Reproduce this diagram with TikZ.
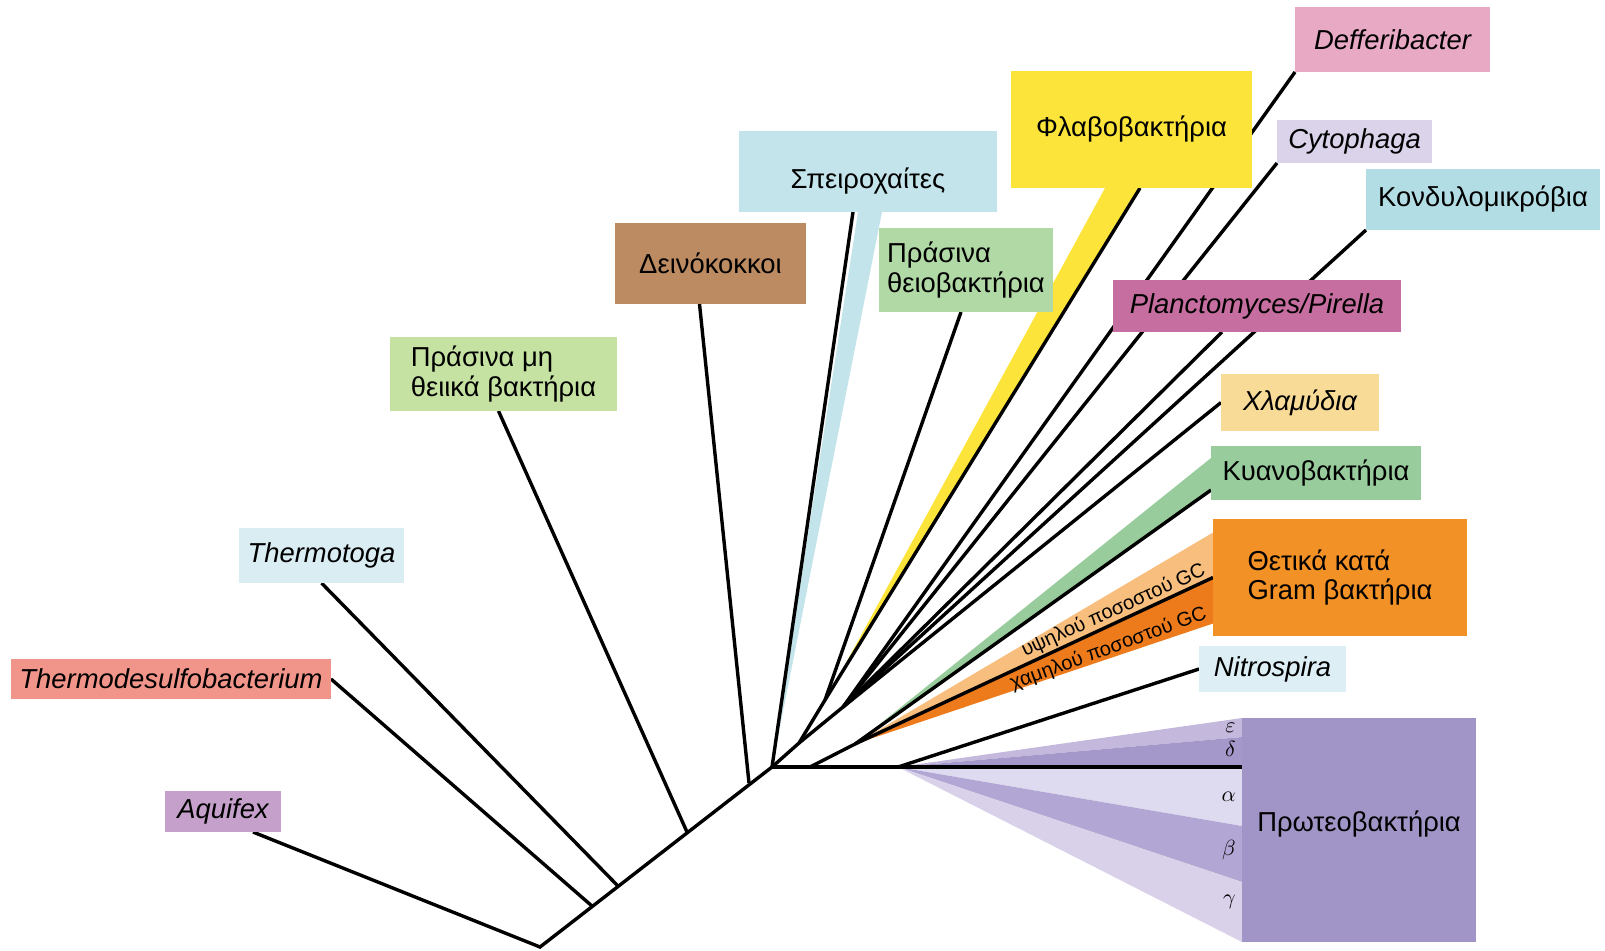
\documentclass[tikz,border=0pt]{standalone}
\usepackage{fontspec}
\setmainfont{Liberation Sans}
\usetikzlibrary{calc}

\pgfdeclarelayer{bg}
\pgfsetlayers{bg,main}

% box and wedge colours
\definecolor{cAqu}{HTML}{C4A0CB}
\definecolor{cTds}{HTML}{F1958A}
\definecolor{cTmt}{HTML}{D9EDF3}
\definecolor{cGns}{HTML}{C6E2A2}
\definecolor{cDei}{HTML}{BC8B61}
\definecolor{cSpi}{HTML}{C4E4EB}
\definecolor{cGsb}{HTML}{B0D9A5}
\definecolor{cFla}{HTML}{FCE43A}
\definecolor{cDef}{HTML}{E8A9C4}
\definecolor{cCyt}{HTML}{DAD3E9}
\definecolor{cKon}{HTML}{B3DDE4}
\definecolor{cPla}{HTML}{C66E9F}
\definecolor{cChl}{HTML}{F9DB98}
\definecolor{cCya}{HTML}{98CC9D}
\definecolor{cGpo}{HTML}{F29126}
\definecolor{cHiGC}{HTML}{F7BE7D}
\definecolor{cLoGC}{HTML}{EE7B1B}
\definecolor{cNit}{HTML}{DDEFF5}
\definecolor{cPro}{HTML}{A194C6}
\definecolor{cEps}{HTML}{C4B9DC}
\definecolor{cDel}{HTML}{A497C9}
\definecolor{cAlp}{HTML}{DEDAEF}
\definecolor{cBet}{HTML}{B2A7D4}
\definecolor{cGam}{HTML}{D9D1EA}

\begin{document}
\begin{tikzpicture}[x=0.5pt,y=-0.5pt,
		taxon/.style={anchor=north west,inner sep=0pt,outer sep=0pt,align=center,
			font=\fontsize{13.7}{14.8}\selectfont},
		branch/.style={line width=1.7pt},
		gclabel/.style={anchor=base east,inner sep=0pt,font=\fontsize{10}{12}\selectfont},
		greek/.style={anchor=east,inner sep=0pt,font=\fontsize{11}{12}\selectfont}]
		
		\useasboundingbox (0,0) rectangle (1605,950);
		
		% Taxa, from the root round to the right
		\node[taxon,fill=cAqu,minimum width=58pt,minimum height=20.5pt] (aqu) at (165,791) {\itshape Aquifex};
		\node[taxon,fill=cTds,minimum width=160pt,minimum height=20pt] (tds) at (11,659) {\itshape Thermodesulfobacterium};
		\node[taxon,fill=cTmt,minimum width=82.5pt,minimum height=27.5pt] (tmt) at (239,528) {\itshape Thermotoga};
		\node[taxon,fill=cGns,minimum width=113.5pt,minimum height=37pt,align=left] (gns) at (390,337) {Πράσινα μη\\θειικά βακτήρια};
		\node[taxon,fill=cDei,minimum width=95.5pt,minimum height=40.5pt] (dei) at (615,223) {Δεινόκοκκοι};
		\node[taxon,fill=cSpi,minimum width=129pt,minimum height=40.5pt] (spi) at (739,131) {\raisebox{-5pt}[\height][\depth]{Σπειροχαίτες}};
		\node[taxon,fill=cGsb,minimum width=87pt,minimum height=42pt,align=left] (gsb) at (879,228) {Πράσινα\\θειοβακτήρια};
		\node[taxon,fill=cFla,minimum width=120.5pt,minimum height=58.5pt] (fla) at (1011,71) {Φλαβοβακτήρια};
		\node[taxon,fill=cDef,minimum width=97.5pt,minimum height=32.5pt] (def) at (1295,7) {\itshape Defferibacter};
		\node[taxon,fill=cCyt,minimum width=77.5pt,minimum height=21.5pt] (cyt) at (1277,120) {\itshape Cytophaga};
		\node[taxon,fill=cKon,minimum width=117pt,minimum height=30.5pt] (kon) at (1366,169) {Κονδυλομικρόβια};
		\node[taxon,fill=cPla,minimum width=144pt,minimum height=26pt] (pla) at (1113,280) {\itshape Planctomyces/Pirella};
		\node[taxon,fill=cChl,minimum width=79pt,minimum height=28.5pt] (chl) at (1221,374) {\itshape Χλαμύδια};
		\node[taxon,fill=cCya,minimum width=105pt,minimum height=27pt] (cya) at (1211,446) {Κυανοβακτήρια};
		\node[taxon,fill=cGpo,minimum width=127pt,minimum height=58.5pt,align=left] (gpo) at (1213,519) {Θετικά κατά\\Gram βακτήρια};
		\node[taxon,fill=cNit,minimum width=73.5pt,minimum height=23pt] (nit) at (1199,646) {\itshape Nitrospira};
		\node[taxon,fill=cPro,minimum width=117pt,minimum height=112pt] (pro) at (1242,718) {\raisebox{3pt}[\height][\depth]{Πρωτεοβακτήρια}};
		
		% Inner points of the tree
		\coordinate (root) at (540,947);
		\coordinate (jTds) at (592,906);
		\coordinate (jTmt) at (618,886);
		\coordinate (jGns) at (687,832);
		\coordinate (jDei) at (749,783);
		\coordinate (ctr) at (772,767);
		\coordinate (jA) at (799,743);
		\coordinate (jB) at (825,700);
		\coordinate (jQ) at (843,707);
		\coordinate (jD) at (810,767);
		\coordinate (jE) at (855,744);
		\coordinate (jG) at (898,767);
		
		% Subgroups inside the proteobacteria and gram positives
		\node[greek] (eps) at ($(pro.north west)+(-6,10)$) {$\varepsilon$};
		\node[greek] (del) at ($(pro.north west)+(-6,31)$) {$\delta$};
		\node[greek] (alp) at ($(pro.north west)+(-6,79)$) {$\alpha$};
		\node[greek] (bet) at ($(pro.north west)+(-6,132)$) {$\beta$};
		\node[greek] (gam) at ($(pro.north west)+(-6,184)$) {$\gamma$};
		\node[gclabel,rotate=24.3] (hiGC) at ($(gpo.west)+(-6,-3)$) {υψηλού ποσοστού GC};
		\node[gclabel,rotate=20] (loGC) at ($(gpo.west)+(-5,41)$) {χαμηλού ποσοστού GC};
		
		\begin{pgfonlayer}{bg}
			% coloured wedges
			\fill[cSpi] (ctr) -- ($(spi.south)+(-10,0)$) -- ($(spi.south)+(14,0)$) -- cycle;
			\fill[cFla] ($(jB)+(4,-6)$) -- ($(fla.south)+(-26.5,0)$) -- ($(fla.south)+(6.5,0)$) -- cycle;
			\fill[cCya] (jE) -- ($(cya.west)+(0,-15)$) -- ($(cya.west)+(0,17)$) -- cycle;
			\fill[cHiGC] (jE) -- ($(gpo.west)+(0,-45)$) -- (gpo.west) -- cycle;
			\fill[cLoGC] (jE) -- (gpo.west) -- ($(gpo.west)+(0,46)$) -- cycle;
			\fill[cEps] (jG) -- (pro.north west) -- ($(pro.north west)+(0,19)$) -- cycle;
			\fill[cDel] (jG) -- ($(pro.north west)+(0,19)$) -- ($(pro.north west)+(0,49)$) -- cycle;
			\fill[cAlp] (jG) -- ($(pro.north west)+(0,49)$) -- ($(pro.north west)+(0,108)$) -- cycle;
			\fill[cBet] (jG) -- ($(pro.north west)+(0,108)$) -- ($(pro.north west)+(0,164)$) -- cycle;
			\fill[cGam] (jG) -- ($(pro.north west)+(0,164)$) -- (pro.south west) -- cycle;
			
			% trunk and side branches
			\draw[branch] ($(aqu.south)+(30,0)$) -- (root) -- (ctr);
			\draw[branch] (tds.east) -- (jTds);
			\draw[branch] (tmt.south) -- (jTmt);
			\draw[branch] ($(gns.south)+(-5,0)$) -- (jGns);
			\draw[branch] ($(dei.south)+(-11,0)$) -- (jDei);
			\draw[branch] ($(spi.south)+(-15,0)$) -- (ctr);
			\draw[branch] (ctr) -- ($(pro.north west)+(0,49)$);
			
			% upper fan
			\draw[branch] (ctr) -- (jA) -- (jB);
			\draw[branch] (jB) -- ($(gsb.south)+(-5,0)$);
			\draw[branch] (jB) -- ($(fla.south)+(8.5,0)$);
			\draw[branch] (jA) -- (jQ) -- (chl.west);
			\draw[branch] (jQ) -- (def.south west);
			\draw[branch] (jQ) -- (cyt.south west);
			\draw[branch] (jQ) -- (kon.south west);
			\draw[branch] (jQ) -- ($(pla.south)+(-35,0)$);
			
			% lower fan
			\draw[branch] (jD) -- (jE) -- ($(cya.west)+(0,17)$);
			\draw[branch] (jE) -- (gpo.west);
			\draw[branch] (jG) -- (nit.west);
		\end{pgfonlayer}
		
	\end{tikzpicture}
\end{document}
